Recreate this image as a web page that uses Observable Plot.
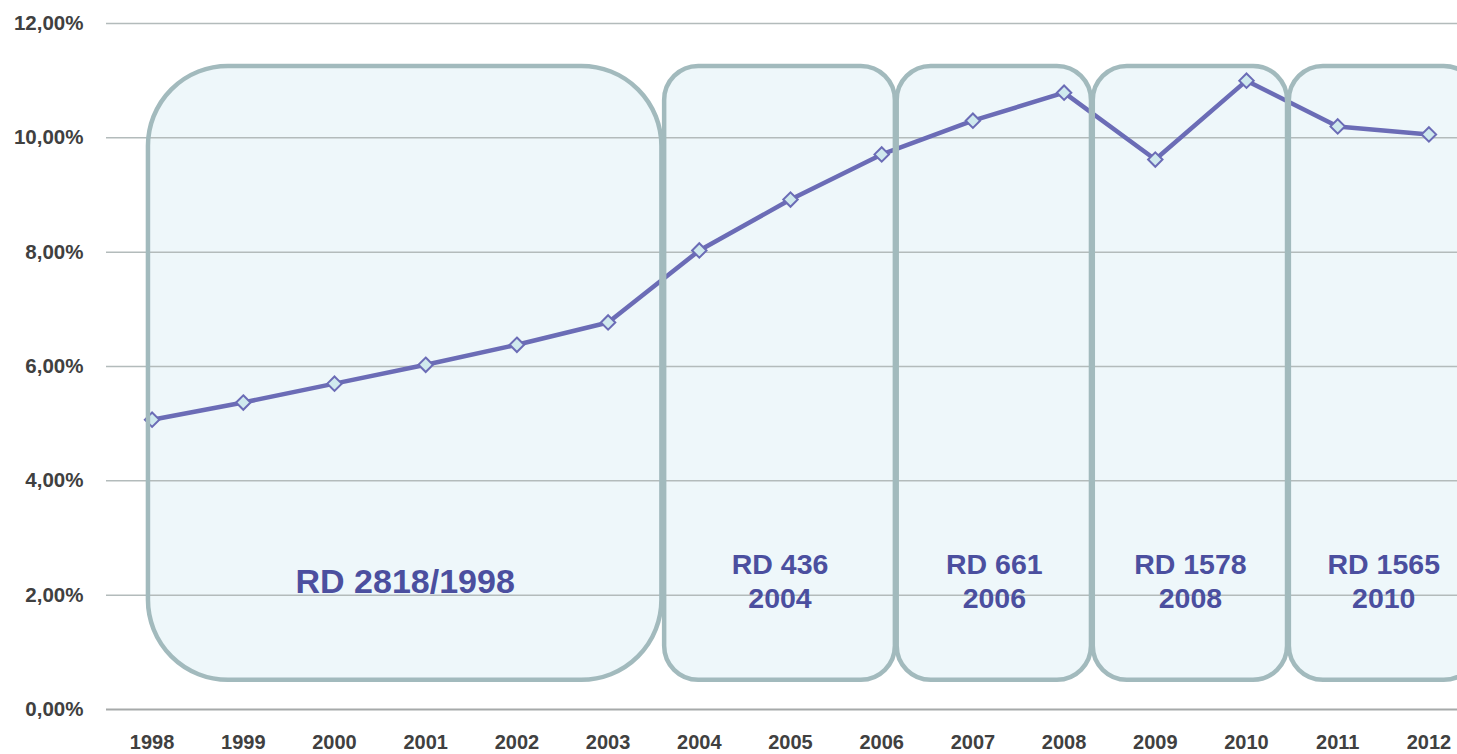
<!DOCTYPE html>
<html>
<head>
<meta charset="utf-8">
<script src="https://cdn.jsdelivr.net/npm/d3@7"></script>
<script src="https://cdn.jsdelivr.net/npm/@observablehq/plot@0.6"></script>
<style>
  html, body { margin: 0; padding: 0; background: #ffffff; overflow: hidden; }
  #chart svg { overflow: hidden; display: block; }
</style>
</head>
<body>
<div id="chart"></div>
<script>
// ---- Data ----
const years = [1998, 1999, 2000, 2001, 2002, 2003, 2004, 2005, 2006, 2007, 2008, 2009, 2010, 2011, 2012];
const values = [5.07, 5.37, 5.70, 6.03, 6.38, 6.77, 8.03, 8.92, 9.71, 10.30, 10.79, 9.62, 11.00, 10.20, 10.06];
const yTicks = [0, 2, 4, 6, 8, 10, 12];

// Regulation periods (year spans shown as rounded boxes)
const periodLabels = ["RD 2818/1998", "RD 436\n2004", "RD 661\n2006", "RD 1578\n2008", "RD 1565\n2010"];
const periodStart = [1997.96, 2003.62, 2006.17, 2008.32, 2010.47];
const periodEnd = [2003.59, 2006.15, 2008.30, 2010.45, 2012.54];
const periodTop = [11.25, 11.25, 11.25, 11.25, 11.25];
const periodBottom = [0.51, 0.51, 0.51, 0.51, 0.51];
const labelLevel = [2.22, 2.27, 2.27, 2.27, 2.27];

// ---- Tables built from the arrays ----
const series = years.map((year, i) => ({year, value: values[i]}));
const periods = periodLabels.map((label, i) => ({
  label,
  x1: periodStart[i], x2: periodEnd[i],
  y1: periodBottom[i], y2: periodTop[i],
  xm: (periodStart[i] + periodEnd[i]) / 2,
  ym: labelLevel[i]
}));
const bigPeriod = periods.slice(0, 1);
const smallPeriods = periods.slice(1);

const lineColor = "#6b6cb6";
const boxFill = "#eef7fa";
const boxStroke = "#a2babd";
const labelColor = "#4b4f9f";
const pct = d => d.toFixed(2).replace(".", ",") + "%";

const chart = Plot.plot({
  width: 1457,
  height: 754,
  marginTop: 23,
  marginBottom: 45,
  marginLeft: 106,
  marginRight: 0,
  x: {domain: [1997.5, 2012.5], range: [106, 1474]},
  y: {domain: [0, 12], range: [709, 23]},
  style: {fontFamily: "'Liberation Sans', Arial, sans-serif", background: "#ffffff", overflow: "hidden"},
  marks: [
    // box fills
    Plot.rect(bigPeriod, {x1: "x1", x2: "x2", y1: "y1", y2: "y2", fill: boxFill, rx: 80, ry: 80}),
    Plot.rect(smallPeriods, {x1: "x1", x2: "x2", y1: "y1", y2: "y2", fill: boxFill, rx: 34, ry: 34}),
    // gridlines
    Plot.ruleY(yTicks.filter(d => d > 0), {stroke: "#b3bbbb", strokeWidth: 1.5}),
    Plot.ruleY([0], {stroke: "#a6a9a9", strokeWidth: 2}),
    // series
    Plot.line(series, {x: "year", y: "value", stroke: lineColor, strokeWidth: 4.5, strokeLinejoin: "round"}),
    Plot.dot(series, {x: "year", y: "value", symbol: "diamond2", r: 6.5, fill: "#cfe9ee", stroke: lineColor, strokeWidth: 2}),
    // box outlines
    Plot.rect(bigPeriod, {x1: "x1", x2: "x2", y1: "y1", y2: "y2", fill: "none", stroke: boxStroke, strokeWidth: 4.5, rx: 80, ry: 80}),
    Plot.rect(smallPeriods, {x1: "x1", x2: "x2", y1: "y1", y2: "y2", fill: "none", stroke: boxStroke, strokeWidth: 4.5, rx: 34, ry: 34}),
    // labels
    Plot.text(bigPeriod, {x: "xm", y: "ym", text: "label", fill: labelColor, fontSize: 34, fontWeight: "bold"}),
    Plot.text(smallPeriods, {x: "xm", y: "ym", text: "label", fill: labelColor, fontSize: 28.5, fontWeight: "bold", lineHeight: 1.2}),
    // axes
    Plot.axisY({ticks: yTicks, tickFormat: pct, tickSize: 0, tickPadding: 23, fontSize: 20.5, fontWeight: "bold", color: "#404040", label: null}),
    Plot.axisX({ticks: years, tickFormat: d => String(d), tickSize: 0, tickPadding: 25, fontSize: 20, fontWeight: "bold", color: "#404040", label: null})
  ]
});
document.getElementById("chart").appendChild(chart);
</script>
</body>
</html>
